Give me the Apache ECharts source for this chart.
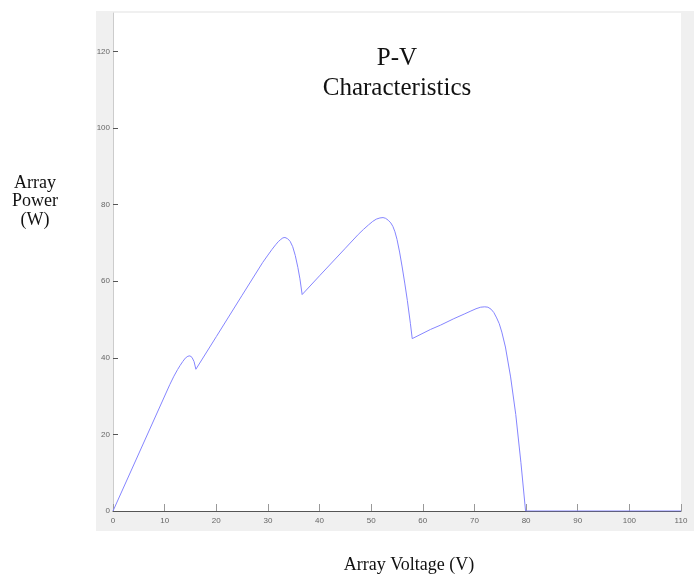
<!DOCTYPE html>
<html>
<head>
<meta charset="utf-8">
<title>P-V Characteristics</title>
<script src="https://cdn.jsdelivr.net/npm/echarts@6/dist/echarts.min.js"></script>
<style>
  html, body { margin: 0; padding: 0; background: #fff; }
  #chart { width: 694px; height: 574px; }
</style>
</head>
<body>
<div id="chart"></div>
<script>
// 读图得到的数据 (V, W)
var voltage = [0, 11, 11.8, 12.5, 13, 13.5, 14, 14.5, 14.9, 15.3, 15.7, 16.05,
  20, 25, 29, 30, 30.8, 31.5, 32, 32.5, 32.9, 33.3, 33.8, 34.3, 34.8, 35.3, 35.8, 36.2, 36.63,
  40, 45, 47.5, 48.5, 49.5, 50.3, 51, 51.7, 52.3, 52.8, 53.3, 53.8, 54.2, 54.6, 55, 55.5, 56, 56.5, 57, 57.6, 57.95,
  61.5, 63.4, 66, 68, 69.3, 70.3, 71.2, 72, 72.6, 73.2, 73.76, 74.3, 74.8, 75.3, 76, 77, 78, 79, 79.9,
  80, 110];
var power = [0, 33, 35.2, 36.9, 38.0, 39.0, 39.9, 40.4, 40.5, 40.1, 39.0, 37.0,
  45.5, 56.3, 64.9, 66.8, 68.3, 69.5, 70.3, 70.9, 71.3, 71.4, 71.1, 70.4, 69.0, 66.7, 63.6, 60.6, 56.5,
  61.4, 68.6, 72.2, 73.5, 74.7, 75.6, 76.2, 76.5, 76.6, 76.4, 75.9, 75.2, 74.3, 72.9, 70.9, 67.6, 63.7, 59.5, 55.0, 48.9, 45.0,
  47.4, 48.5, 50.2, 51.4, 52.2, 52.8, 53.2, 53.3, 53.2, 52.7, 51.8, 50.4, 48.9, 46.7, 42.8, 35.0, 25.2, 12.6, 0,
  0, 0];
var yTicks = [0, 20, 40, 60, 80, 100, 120];

var points = voltage.map(function (v, i) { return [v, power[i]]; });

var chart = echarts.init(document.getElementById('chart'));
var tickFont = { fontFamily: 'Liberation Sans Narrow, Arial Narrow, sans-serif', fontSize: 8, color: '#666' };
var serif = '"Liberation Serif", "Times New Roman", serif';

chart.setOption({
  animation: false,
  backgroundColor: '#fff',
  grid: { left: 113, top: 13, right: 13, bottom: 63 },
  graphic: [
    // 灰色底板
    { type: 'rect', z: -10, shape: { x: 96, y: 11, width: 600, height: 520 }, style: { fill: '#f0f0f0' } },
    { type: 'rect', z: -9, shape: { x: 113, y: 13, width: 568, height: 498 }, style: { fill: '#fff' } },
    { type: 'text', x: 397, y: 58, style: { text: 'P-V', textAlign: 'center', textVerticalAlign: 'middle', font: '25px ' + serif, fill: '#111' } },
    { type: 'text', x: 397, y: 88, style: { text: 'Characteristics', textAlign: 'center', textVerticalAlign: 'middle', font: '25px ' + serif, fill: '#111' } },
    { type: 'text', x: 35, y: 183, style: { text: 'Array', textAlign: 'center', textVerticalAlign: 'middle', font: '18px ' + serif, fill: '#111' } },
    { type: 'text', x: 35, y: 201, style: { text: 'Power', textAlign: 'center', textVerticalAlign: 'middle', font: '18px ' + serif, fill: '#111' } },
    { type: 'text', x: 35, y: 220, style: { text: '(W)', textAlign: 'center', textVerticalAlign: 'middle', font: '18px ' + serif, fill: '#111' } },
    { type: 'text', x: 409, y: 565, style: { text: 'Array Voltage (V)', textAlign: 'center', textVerticalAlign: 'middle', font: '18px ' + serif, fill: '#111' } }
  ],
  xAxis: {
    type: 'value', min: 0, max: 110, interval: 10,
    axisLine: { lineStyle: { color: '#555', width: 1 } },
    axisTick: { inside: true, length: 7, lineStyle: { color: '#999' } },
    axisLabel: Object.assign({ margin: 6 }, tickFont),
    splitLine: { show: false }
  },
  yAxis: {
    type: 'value', min: 0, max: 130, interval: 20,
    axisLine: { show: true, lineStyle: { color: '#ccc', width: 1 } },
    axisTick: { show: true, inside: true, length: 5, lineStyle: { color: '#555' }, customValues: yTicks },
    axisLabel: Object.assign({ margin: 3, customValues: yTicks }, tickFont),
    splitLine: { show: false }
  },
  series: [{
    type: 'line',
    data: points,
    showSymbol: false,
    smooth: false,
    lineStyle: { color: '#8585ff', width: 1 },
    z: 5
  }]
});
</script>
</body>
</html>
